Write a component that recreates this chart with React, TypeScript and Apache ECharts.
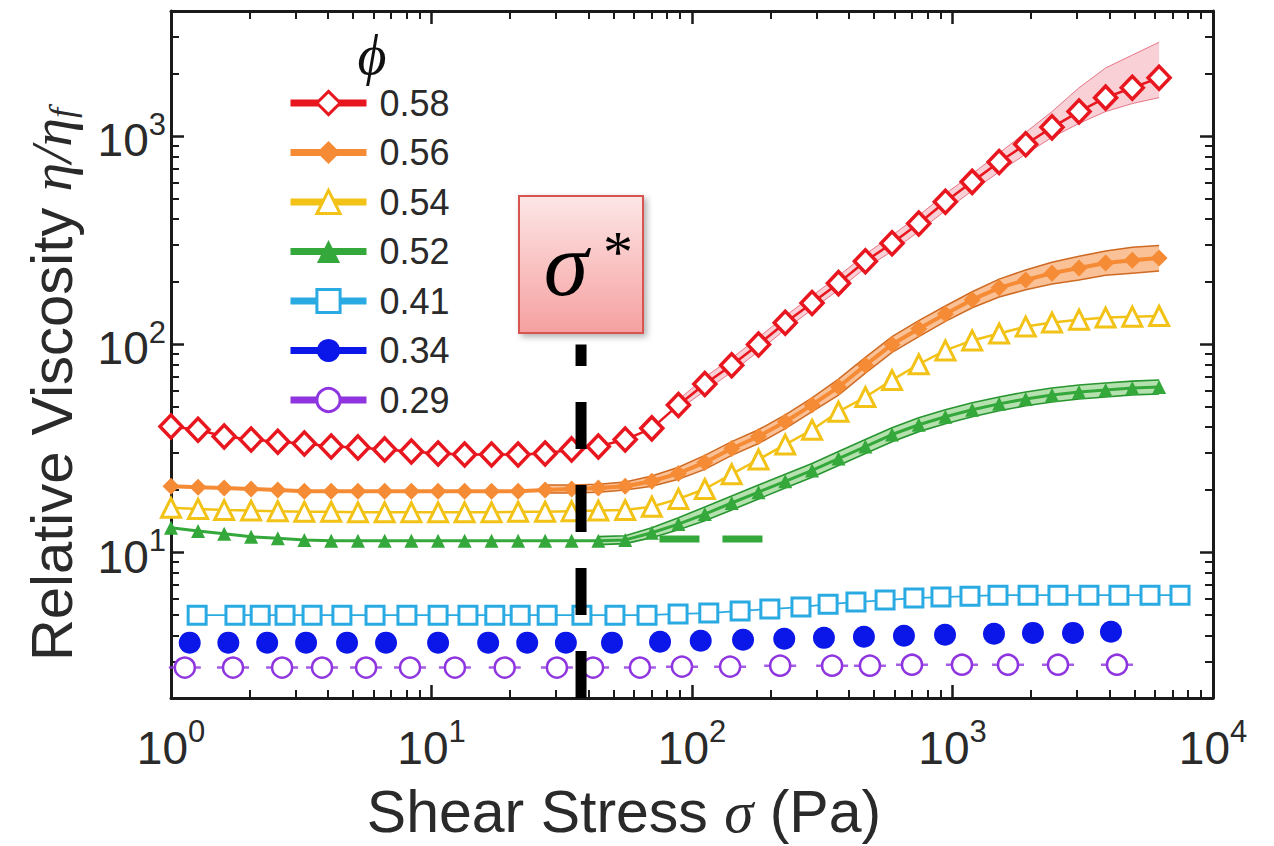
import React, { useEffect, useRef } from 'react';
import * as echarts from 'echarts';

// ---------- data ----------
// shear stress values shared by the four dense series (phi = 0.58 ... 0.52)
const X_DENSE = [1.0, 1.27, 1.6, 2.03, 2.57, 3.25, 4.12, 5.22, 6.61, 8.37, 10.6, 13.4, 17.0, 21.5, 27.3, 34.5, 43.7, 55.4, 70.1, 88.7, 112, 142, 180, 228, 289, 365, 463, 586, 742, 939, 1190, 1510, 1910, 2410, 3060, 3870, 4900, 6210];

const PHI_058 = [40.3, 38.9, 36.1, 34.9, 34.1, 33.4, 32.3, 32.0, 31.3, 30.6, 29.9, 29.6, 29.6, 29.6, 29.9, 31.3, 32.3, 34.9, 39.5, 51.2, 64.5, 79.4, 100, 127, 158, 197, 251, 306, 381, 485, 604, 752, 916, 1104, 1315, 1534, 1711, 1910];
const PHI_056 = [20.8, 20.6, 20.4, 20.2, 19.95, 19.7, 19.7, 19.7, 19.7, 19.7, 19.7, 19.7, 19.7, 19.7, 19.95, 20.2, 20.4, 20.8, 22.0, 24.0, 27.1, 31.6, 36.1, 42.5, 51.2, 62.4, 79.4, 100, 119, 140, 164, 187, 204, 220, 233, 246, 254, 260];
const PHI_054 = [16.4, 16.2, 16.0, 15.9, 15.8, 15.7, 15.7, 15.6, 15.6, 15.6, 15.6, 15.6, 15.6, 15.7, 15.7, 15.8, 15.9, 16.0, 16.6, 18.1, 20.2, 23.8, 28.0, 33.0, 38.9, 47.5, 55.9, 67.4, 80.3, 93.6, 104.5, 112.8, 121.8, 127.3, 131.5, 134.6, 135.9, 137];
const PHI_052 = [13.15, 12.7, 12.3, 11.9, 11.7, 11.5, 11.4, 11.4, 11.4, 11.4, 11.4, 11.4, 11.4, 11.4, 11.4, 11.4, 11.4, 11.5, 12.45, 13.7, 15.3, 17.3, 19.5, 22.0, 24.8, 28.3, 32.3, 36.9, 41.1, 44.9, 48.5, 51.8, 54.7, 57.2, 59.1, 60.4, 61.7, 62.4];

// uncertainty bands (start index into X_DENSE)
const BAND_058_START = 19;
const BAND_058_UPPER = [54.1, 69.6, 85.8, 108, 137, 171, 213, 271, 334, 416, 529, 659, 830, 1045, 1315, 1711, 2131, 2457, 2834];
const BAND_058_LOWER = [48.5, 59.7, 73.6, 92.6, 118, 147, 183, 233, 280, 349, 440, 547, 674, 821, 989, 1153, 1315, 1436, 1534];
const BAND_056_START = 14;
const BAND_056_UPPER = [21.1, 21.1, 21.3, 21.8, 23.3, 25.7, 29.3, 34.1, 38.9, 45.9, 55.3, 68.1, 86.7, 109, 130, 153, 179, 206, 228, 248, 265, 281, 293, 299];
const BAND_056_LOWER = [19.3, 19.3, 19.5, 20.0, 20.8, 22.5, 25.1, 29.3, 33.4, 39.4, 47.5, 57.1, 72.8, 91.6, 109, 129, 150, 169, 183, 195, 204, 215, 220, 225];
const BAND_052_START = 16;
const BAND_052_UPPER = [11.92, 12.05, 13.15, 14.68, 16.56, 18.7, 21.1, 23.8, 26.8, 30.6, 34.9, 39.8, 44.4, 48.5, 52.4, 55.9, 59.1, 61.7, 63.8, 65.2, 66.6, 67.4];
const BAND_052_LOWER = [10.92, 11.04, 11.79, 12.87, 14.2, 16.0, 18.1, 20.4, 23.0, 26.2, 29.9, 34.1, 38.1, 41.6, 44.9, 48.0, 50.7, 52.9, 54.7, 55.9, 57.2, 57.8];

const X_041 = [1.26, 1.76, 2.2, 2.74, 3.48, 4.53, 6.07, 8.05, 10.6, 13.8, 17.5, 21.9, 27.8, 37.8, 50.6, 67.2, 88.4, 116, 153, 199, 262, 333, 426, 551, 711, 903, 1167, 1495, 1950, 2540, 3340, 4355, 5730, 7470];
const PHI_041 = [5.0, 5.0, 5.0, 5.0, 5.0, 5.0, 5.0, 5.0, 5.0, 5.0, 5.0, 5.0, 5.0, 5.0, 5.0, 5.0, 5.07, 5.12, 5.24, 5.35, 5.47, 5.65, 5.78, 5.91, 6.04, 6.11, 6.17, 6.24, 6.24, 6.24, 6.24, 6.24, 6.24, 6.24];

const X_034 = [1.18, 1.66, 2.34, 3.3, 4.74, 6.69, 10.6, 16.5, 23.3, 32.8, 49.3, 75.4, 108, 157, 226, 321, 457, 651, 936, 1443, 2036, 2901, 4058];
const PHI_034 = [3.69, 3.69, 3.69, 3.69, 3.69, 3.69, 3.69, 3.69, 3.69, 3.69, 3.69, 3.73, 3.77, 3.81, 3.85, 3.89, 3.94, 3.98, 4.03, 4.07, 4.11, 4.11, 4.16];

const X_029 = [1.13, 1.73, 2.67, 3.8, 5.61, 8.27, 12.3, 19.1, 30.3, 41.7, 63.1, 91.5, 140, 218, 345, 482, 699, 1087, 1633, 2541, 4280];
const PHI_029 = [2.8, 2.8, 2.8, 2.8, 2.8, 2.8, 2.8, 2.8, 2.8, 2.8, 2.8, 2.83, 2.83, 2.86, 2.86, 2.86, 2.89, 2.89, 2.89, 2.89, 2.89];

// sigma* marker line and low-stress extrapolation of phi = 0.52
const SIGMA_STAR = 37.5;
const SIGMA_LINE_Y = [2, 100];
const EXT_052_X = [75, 188];
const EXT_052_Y = 11.6;

// axes
const X_LABELS = [1, 10, 100, 1000, 10000];
const X_MAJOR = [10, 100, 1000];
const X_MINOR = [2, 3, 4, 5, 6, 7, 8, 9, 20, 30, 40, 50, 60, 70, 80, 90, 200, 300, 400, 500, 600, 700, 800, 900, 2000, 3000, 4000, 5000, 6000, 7000, 8000, 9000];
const Y_LABELS = [10, 100, 1000];
const Y_MAJOR = [10, 100, 1000];
const Y_MINOR = [3, 4, 5, 6, 7, 8, 9, 20, 30, 40, 50, 60, 70, 80, 90, 200, 300, 400, 500, 600, 700, 800, 900, 2000, 3000];
const LEGEND_NAMES = ['0.58', '0.56', '0.54', '0.52', '0.41', '0.34', '0.29'];

// ---------- styles ----------
const SANS = '"Liberation Sans", Arial, Helvetica, sans-serif';
const SERIF = '"Liberation Serif", "DejaVu Serif", "Times New Roman", serif';
const TXT = '#2a2a2a';
const RED = '#e8161e';
const ORANGE = '#f58b35';
const YELLOW = '#f2c217';
const GREEN = '#34a83a';
const CYAN = '#2aaae2';
const BLUE = '#0b16e8';
const PURPLE = '#8f35e0';

function zip(xs: number[], ys: number[]) {
  return xs.map((x, i) => [x, ys[i]]);
}

function bandSeries(xs: number[], up: number[], lo: number[], fill: string, stroke: string, lw: number) {
  return {
    type: 'custom',
    coordinateSystem: 'cartesian2d',
    xAxisIndex: 0,
    yAxisIndex: 0,
    silent: true,
    clip: false,
    z: 1,
    data: [[xs[0], up[0]]],
    renderItem: (_params: any, api: any) => {
      const top = xs.map((x, i) => api.coord([x, up[i]]));
      const bot = xs.map((x, i) => api.coord([x, lo[i]]));
      return {
        type: 'group',
        children: [
          { type: 'polygon', shape: { points: top.concat(bot.slice().reverse()) }, style: { fill, stroke: 'none' } },
          { type: 'polyline', shape: { points: top }, style: { stroke, lineWidth: lw, fill: 'none' } },
          { type: 'polyline', shape: { points: bot }, style: { stroke, lineWidth: lw, fill: 'none' } },
        ],
      };
    },
  };
}

export default function App() {
  const ref = useRef<HTMLDivElement>(null);

  useEffect(() => {
    const chart = echarts.init(ref.current as HTMLDivElement, undefined, { renderer: 'svg' });

    const powFormatter = (v: number) => `{b|10}{s|${Math.round(Math.log10(v))}}`;
    const labelRich = {
      b: { fontSize: 46, fontFamily: SANS, color: TXT, padding: [8, 0, 0, 0] },
      s: { fontSize: 31, fontFamily: SANS, color: TXT, padding: [0, 0, 24, 0] },
    };
    const frameLine = { show: true, onZero: false, lineStyle: { color: '#1a1a1a', width: 3 } };
    const noLine = { show: false, onZero: false };
    const majorTick = (vals: number[]) => ({ show: true, inside: true, length: 13, customValues: vals, lineStyle: { color: '#1a1a1a', width: 2.5 } });
    const minorTick = (vals: number[]) => ({ show: true, inside: true, length: 8, customValues: vals, lineStyle: { color: '#1a1a1a', width: 2 } });
    const xCommon = { type: 'log', logBase: 10, min: 1, max: 10000, splitLine: { show: false }, gridIndex: 0 };
    const yCommon = { type: 'log', logBase: 10, min: 2, max: 4000, splitLine: { show: false }, gridIndex: 0 };
    const hidden = { show: false };

    const line = (name: string, xs: number[], ys: number[], extra: any) => ({
      type: 'line',
      name,
      data: zip(xs, ys),
      xAxisIndex: 0,
      yAxisIndex: 0,
      clip: false,
      silent: true,
      showAllSymbol: true,
      z: 3,
      ...extra,
    });

    const option: any = {
      animation: false,
      backgroundColor: '#ffffff',
      grid: { left: 171, top: 11, width: 1042, height: 694, containLabel: false },
      xAxis: [
        {
          ...xCommon,
          position: 'bottom',
          axisLine: frameLine,
          axisTick: majorTick(X_MAJOR),
          axisLabel: { show: true, customValues: X_LABELS, formatter: powFormatter, rich: labelRich, margin: 18 },
          name: '{a|Shear Stress }{i|σ}{a| (Pa)}',
          nameLocation: 'middle',
          nameGap: 84,
          nameTextStyle: {
            padding: [0, 136, 0, 0],
            rich: {
              a: { fontSize: 59, fontFamily: SANS, color: TXT },
              i: { fontSize: 59, fontFamily: SERIF, fontStyle: 'italic', color: TXT },
            },
          },
        },
        { ...xCommon, position: 'bottom', axisLine: noLine, axisTick: minorTick(X_MINOR), axisLabel: hidden },
        { ...xCommon, position: 'top', axisLine: frameLine, axisTick: majorTick(X_MAJOR), axisLabel: hidden },
        { ...xCommon, position: 'top', axisLine: noLine, axisTick: minorTick(X_MINOR), axisLabel: hidden },
      ],
      yAxis: [
        {
          ...yCommon,
          position: 'left',
          axisLine: frameLine,
          axisTick: majorTick(Y_MAJOR),
          axisLabel: { show: true, customValues: Y_LABELS, formatter: powFormatter, rich: labelRich, margin: 5 },
          name: '{a|Relative Viscosity }{i|η/η}{f|f}',
          nameLocation: 'middle',
          nameRotate: 90,
          nameGap: 91,
          nameTextStyle: {
            padding: [0, 60, 0, 0],
            rich: {
              a: { fontSize: 58, fontFamily: SANS, color: TXT },
              i: { fontSize: 58, fontFamily: SERIF, fontStyle: 'italic', color: TXT },
              f: { fontSize: 36, fontFamily: SERIF, fontStyle: 'italic', color: TXT, padding: [22, 0, 0, 0] },
            },
          },
        },
        { ...yCommon, position: 'left', axisLine: noLine, axisTick: minorTick(Y_MINOR), axisLabel: hidden },
        { ...yCommon, position: 'right', axisLine: frameLine, axisTick: majorTick(Y_MAJOR), axisLabel: hidden },
        { ...yCommon, position: 'right', axisLine: noLine, axisTick: minorTick(Y_MINOR), axisLabel: hidden },
      ],
      legend: {
        orient: 'vertical',
        left: 287,
        top: 85,
        padding: 0,
        itemWidth: 76,
        itemHeight: 29,
        itemGap: 13.5,
        selectedMode: false,
        textStyle: { fontSize: 36, color: TXT, fontFamily: SANS, padding: [0, 0, 0, 8] },
        data: [
          { name: LEGEND_NAMES[0], itemStyle: { color: '#fff', borderColor: RED, borderWidth: 3 }, lineStyle: { color: RED, width: 7, opacity: 1 } },
          { name: LEGEND_NAMES[1], itemStyle: { color: ORANGE, borderWidth: 0 }, lineStyle: { color: ORANGE, width: 7, opacity: 1 } },
          { name: LEGEND_NAMES[2], itemStyle: { color: '#fff', borderColor: YELLOW, borderWidth: 3 }, lineStyle: { color: YELLOW, width: 7, opacity: 1 } },
          { name: LEGEND_NAMES[3], itemStyle: { color: GREEN, borderWidth: 0 }, lineStyle: { color: GREEN, width: 7, opacity: 1 } },
          { name: LEGEND_NAMES[4], itemStyle: { color: '#fff', borderColor: CYAN, borderWidth: 3 }, lineStyle: { color: CYAN, width: 7, opacity: 1 } },
          { name: LEGEND_NAMES[5], itemStyle: { color: BLUE, borderWidth: 0 }, lineStyle: { color: BLUE, width: 7, opacity: 1 } },
          { name: LEGEND_NAMES[6], itemStyle: { color: '#fff', borderColor: PURPLE, borderWidth: 3 }, lineStyle: { color: PURPLE, width: 7, opacity: 1 } },
        ],
      },
      graphic: [
        {
          type: 'text',
          x: 372,
          y: 55,
          z: 50,
          style: { text: 'ϕ', font: `italic 56px ${SERIF}`, fill: '#111', textAlign: 'center', textVerticalAlign: 'middle' },
        },
        {
          type: 'rect',
          z: 50,
          shape: { x: 519, y: 196, width: 124, height: 137 },
          style: {
            fill: new echarts.graphic.LinearGradient(0, 0, 0, 1, [
              { offset: 0, color: '#fde6e6' },
              { offset: 1, color: '#f6a0a0' },
            ]),
            stroke: '#d9534f',
            lineWidth: 2,
            shadowBlur: 6,
            shadowOffsetX: 3,
            shadowOffsetY: 3,
            shadowColor: 'rgba(0,0,0,0.3)',
          },
        },
        {
          type: 'text',
          x: 566,
          y: 264,
          z: 51,
          style: { text: 'σ', font: `italic 90px ${SERIF}`, fill: '#000', textAlign: 'center', textVerticalAlign: 'middle' },
        },
        {
          type: 'text',
          x: 618,
          y: 252,
          z: 51,
          style: { text: '*', font: `60px ${SERIF}`, fill: '#000', textAlign: 'center', textVerticalAlign: 'middle' },
        },
      ],
      series: [
        bandSeries(X_DENSE.slice(BAND_058_START), BAND_058_UPPER, BAND_058_LOWER, 'rgba(240,150,165,0.45)', 'rgba(225,90,110,0.8)', 1),
        bandSeries(X_DENSE.slice(BAND_056_START), BAND_056_UPPER, BAND_056_LOWER, 'rgba(247,150,80,0.6)', '#cf6a22', 1.5),
        bandSeries(X_DENSE.slice(BAND_052_START), BAND_052_UPPER, BAND_052_LOWER, 'rgba(120,200,110,0.55)', '#279530', 1.6),
        line(LEGEND_NAMES[4], X_041, PHI_041, {
          symbol: 'rect',
          symbolSize: 18,
          itemStyle: { color: '#fff', borderColor: CYAN, borderWidth: 3 },
          lineStyle: { color: CYAN, width: 1.8 },
        }),
        line(LEGEND_NAMES[5], X_034, PHI_034, {
          symbol: 'circle',
          symbolSize: 22,
          itemStyle: { color: BLUE, borderWidth: 0 },
          lineStyle: { color: BLUE, width: 1, opacity: 0 },
        }),
        {
          type: 'scatter',
          name: 'bars029',
          data: zip(X_029, PHI_029),
          xAxisIndex: 0,
          yAxisIndex: 0,
          silent: true,
          clip: false,
          z: 3,
          symbol: 'rect',
          symbolSize: [32, 2.5],
          itemStyle: { color: PURPLE },
        },
        line(LEGEND_NAMES[6], X_029, PHI_029, {
          symbol: 'circle',
          symbolSize: 20,
          itemStyle: { color: '#fff', borderColor: PURPLE, borderWidth: 2.5 },
          lineStyle: { color: PURPLE, width: 1, opacity: 0 },
        }),
        line(LEGEND_NAMES[3], X_DENSE, PHI_052, {
          symbol: 'triangle',
          symbolSize: 14,
          itemStyle: { color: GREEN, borderWidth: 0 },
          lineStyle: { color: GREEN, width: 3 },
        }),
        line(LEGEND_NAMES[1], X_DENSE, PHI_056, {
          symbol: 'diamond',
          symbolSize: 17,
          itemStyle: { color: ORANGE, borderWidth: 0 },
          lineStyle: { color: ORANGE, width: 4 },
        }),
        line(LEGEND_NAMES[2], X_DENSE, PHI_054, {
          symbol: 'triangle',
          symbolSize: 19,
          itemStyle: { color: '#fff', borderColor: YELLOW, borderWidth: 3 },
          lineStyle: { color: YELLOW, width: 2.5 },
        }),
        line(LEGEND_NAMES[0], X_DENSE, PHI_058, {
          symbol: 'diamond',
          symbolSize: [22, 23],
          itemStyle: { color: '#fff', borderColor: RED, borderWidth: 3.5 },
          lineStyle: { color: RED, width: 2.5 },
        }),
        {
          type: 'line',
          name: 'ext052',
          data: EXT_052_X.map((x) => [x, EXT_052_Y]),
          xAxisIndex: 0,
          yAxisIndex: 0,
          silent: true,
          clip: false,
          symbol: 'none',
          z: 4,
          lineStyle: { color: GREEN, width: 7, type: [40, 23], cap: 'butt' },
        },
        {
          type: 'line',
          name: 'sigmaStar',
          data: SIGMA_LINE_Y.map((y) => [SIGMA_STAR, y]),
          xAxisIndex: 0,
          yAxisIndex: 0,
          silent: true,
          clip: false,
          symbol: 'none',
          z: 5,
          lineStyle: { color: '#000', width: 11, type: [47, 36], cap: 'butt' },
        },
      ],
    };

    chart.setOption(option);
    return () => {
      chart.dispose();
    };
  }, []);

  return (
    <div
      ref={ref}
      style={{ position: 'fixed', left: 0, top: 0, width: 1274, height: 846, background: '#ffffff' }}
    />
  );
}
